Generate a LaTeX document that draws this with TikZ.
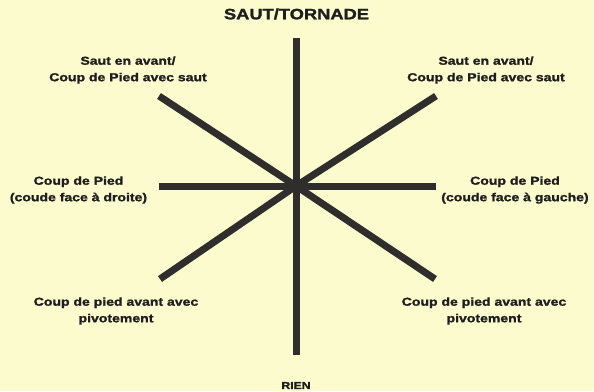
\documentclass[tikz,border=0pt]{standalone}
\usepackage{fontspec}
\newfontfamily\labelfont{Liberation Sans}[FakeStretch=1.22,FakeBold=1.6]
\usepackage{tikz}

\definecolor{paper}{RGB}{251,251,206}
\definecolor{spoke}{RGB}{48,46,44}
\definecolor{ink}{RGB}{30,30,30}

\tikzset{
    spokeline/.style={draw=spoke, line width=7pt},
    movelabel/.style={
        text=ink,
        align=center,
        inner sep=0pt,
        font=\labelfont\bfseries\fontsize{11.5}{16.5}\selectfont
    }
}

\begin{document}
\begin{tikzpicture}[x=1pt,y=-1pt]

\fill[paper] (0,0) rectangle (594,391);
\useasboundingbox (0,0) rectangle (594,391);

% centre and spoke ends
\coordinate (c) at (296,186);
\coordinate (top) at (296,38);
\coordinate (bottom) at (296,355);
\coordinate (left) at (159,186);
\coordinate (right) at (436,186);
\coordinate (ul) at (159,96);
\coordinate (ur) at (436,96);
\coordinate (ll) at (160,279);
\coordinate (lr) at (435,279);

\draw[spokeline] (c) -- (top);
\draw[spokeline] (c) -- (bottom);
\draw[spokeline] (c) -- (left);
\draw[spokeline] (c) -- (right);
\draw[spokeline] (c) -- (ul);
\draw[spokeline] (c) -- (ur);
\draw[spokeline] (c) -- (ll);
\draw[spokeline] (c) -- (lr);

\node[
    text=ink,
    inner sep=0pt,
    font=\labelfont\bfseries\fontsize{15}{18}\selectfont
] (saut) at (296.5,14) {SAUT/TORNADE};

\node[
    text=ink,
    inner sep=0pt,
    font=\labelfont\bfseries\fontsize{10}{12}\selectfont
] (rien) at (296,385.5) {RIEN};

\node[movelabel] (ulabel) at (128,70) {Saut en avant/\\Coup de Pied avec saut};
\node[movelabel] (urlabel) at (486,70) {Saut en avant/\\Coup de Pied avec saut};
\node[movelabel] (llabel) at (78.5,190) {Coup de Pied\\(coude face à droite)};
\node[movelabel] (rlabel) at (515,190) {Coup de Pied\\(coude face à gauche)};
\node[movelabel] (lllabel) at (116,311) {Coup de pied avant avec\\pivotement};
\node[movelabel] (lrlabel) at (484,311) {Coup de pied avant avec\\pivotement};

\end{tikzpicture}
\end{document}
